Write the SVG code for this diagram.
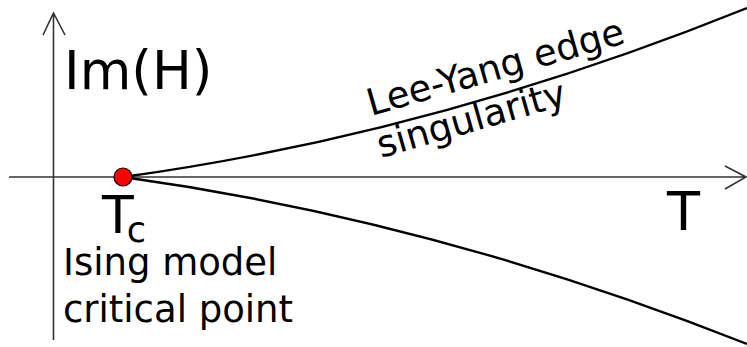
<svg xmlns="http://www.w3.org/2000/svg" width="747" height="347" viewBox="0 0 747 347">
<style>
.axis{fill:none;stroke:#333;stroke-width:1.6}
.curve{fill:none;stroke:#000;stroke-width:2.4}
text{font-family:"DejaVu Sans",sans-serif;fill:#000}
</style>
<rect width="747" height="347" fill="#fff"/>
<g id="axes">
<path class="axis" d="M53.5,340 V13 M43,35 L53.5,13 L65,35"/>
<path class="axis" d="M9,177 H746 M725,166 L746,177 L725,189"/>
</g>
<g id="connectors">
<path class="curve" d="M123,177 Q435,133.9 747,8"/>
<path class="curve" d="M123,177 Q435,220.1 747,344"/>
</g>
<g id="critical-point">
<circle cx="123" cy="177" r="9" fill="#f00" stroke="#000" stroke-width="1.2"/>
<text x="102" y="233" font-size="52">T<tspan font-size="35" dx="-7" dy="9">c</tspan></text>
<text x="63" y="275" font-size="37">Ising model</text>
<text x="63" y="322" font-size="37">critical point</text>
</g>
<g id="labels">
<text x="64" y="89" font-size="53">Im(H)</text>
<text x="667" y="230" font-size="54">T</text>
<text x="371" y="116" font-size="37" transform="rotate(-16 371 116)">Lee-Yang edge</text>
<text x="381" y="158" font-size="37" transform="rotate(-16 381 158)">singularity</text>
</g>
</svg>
